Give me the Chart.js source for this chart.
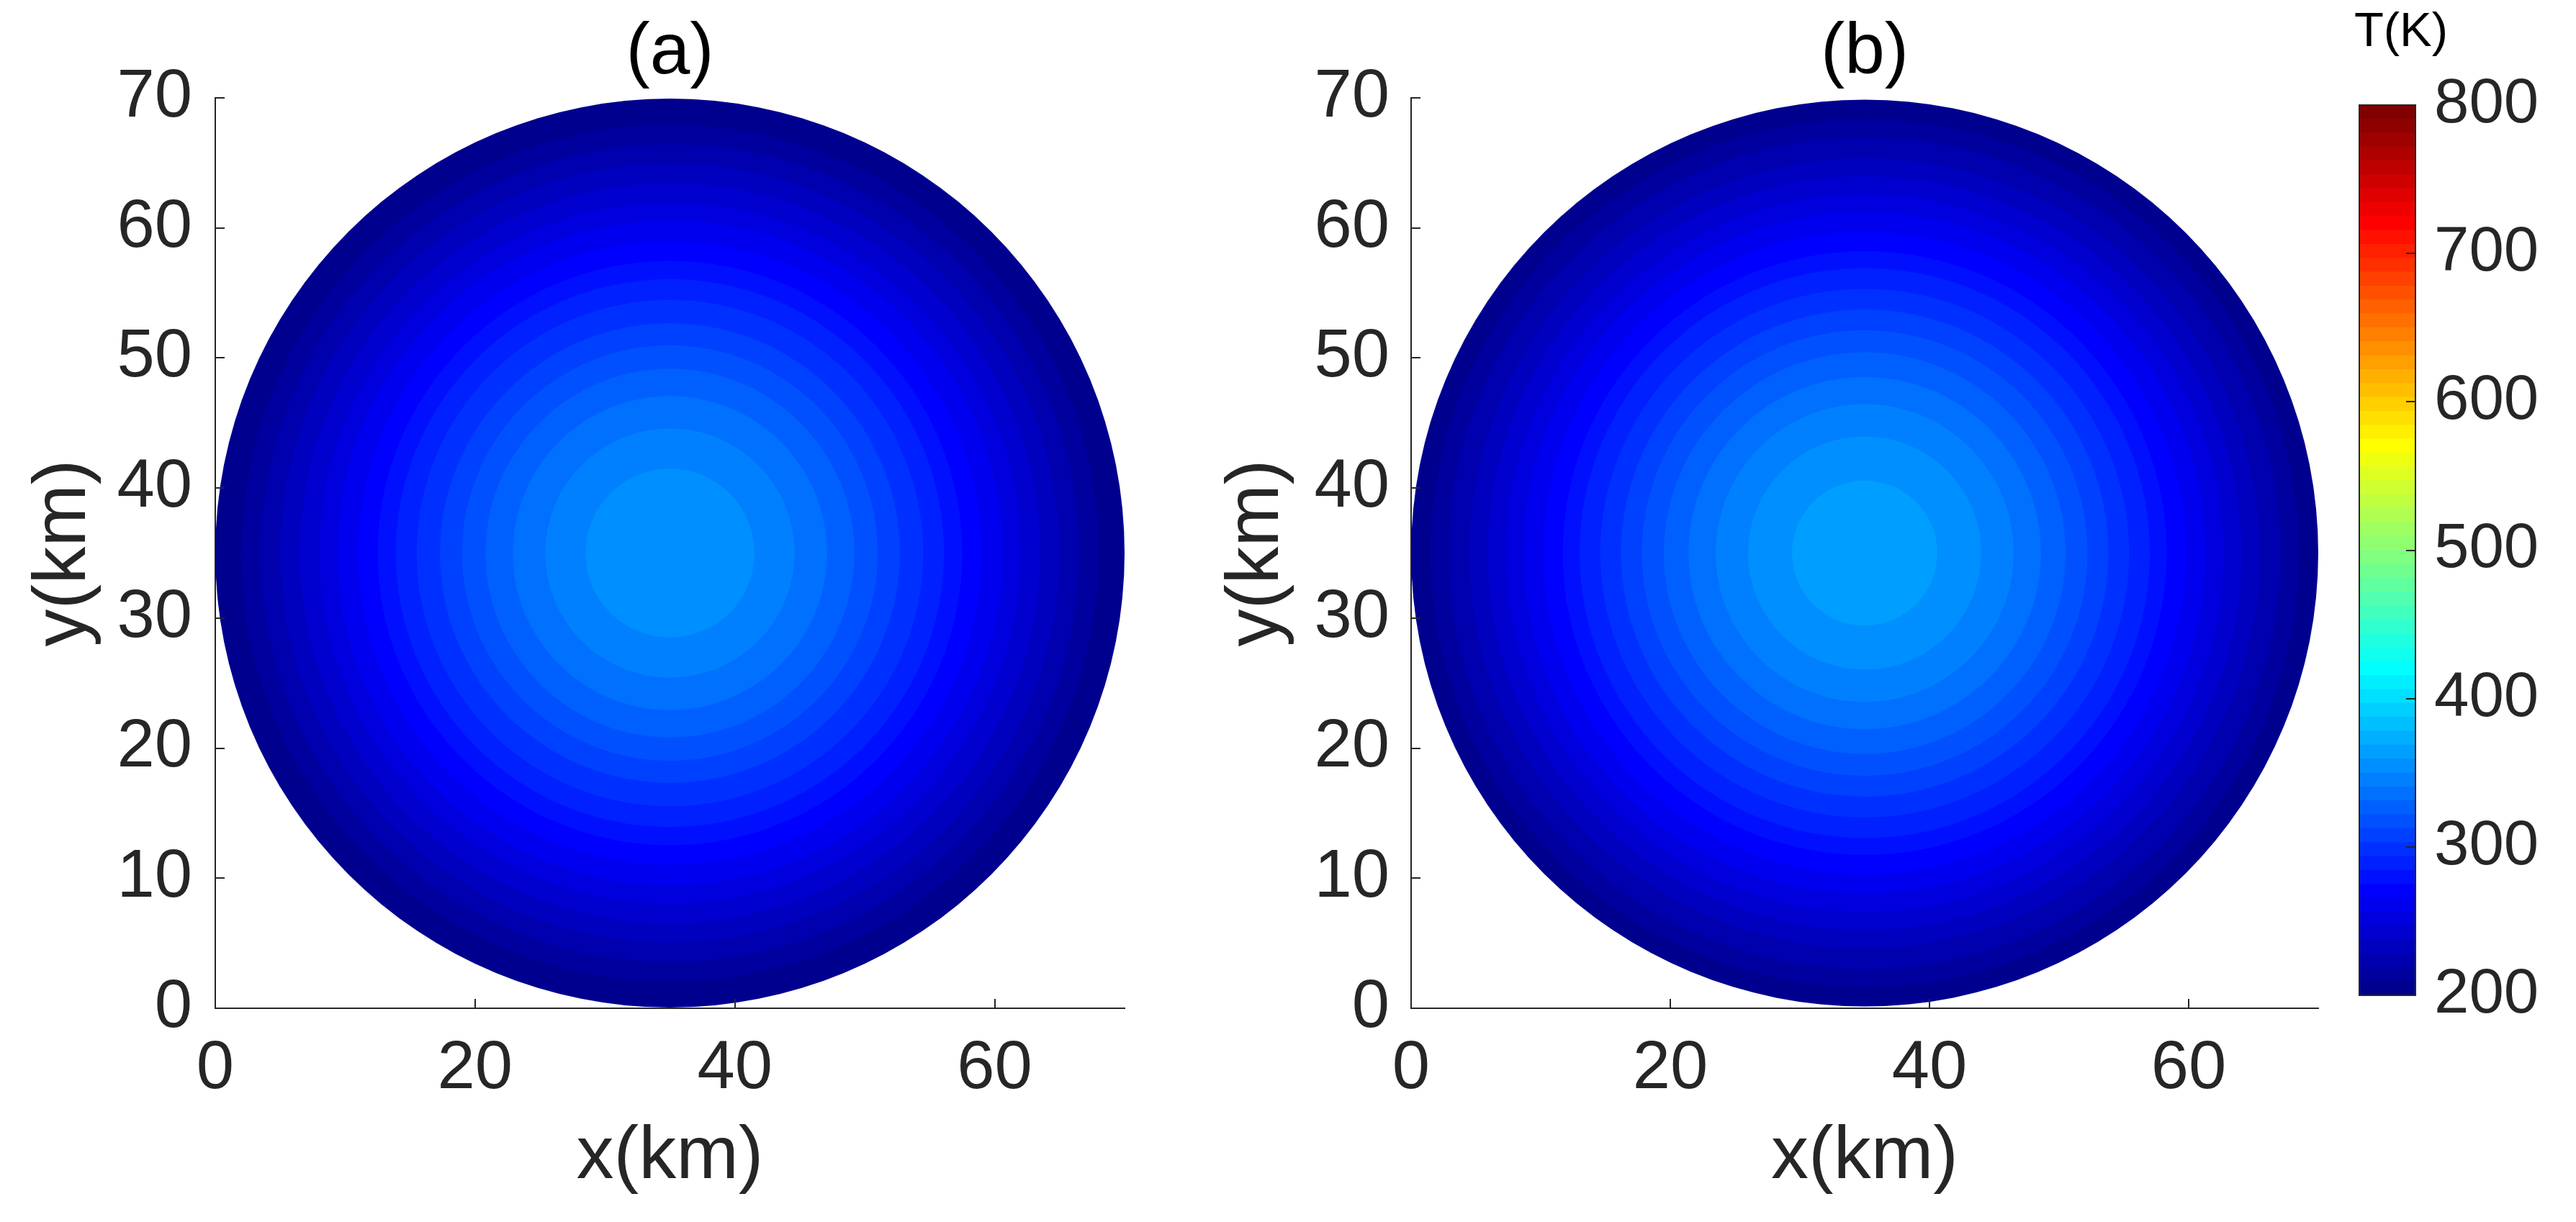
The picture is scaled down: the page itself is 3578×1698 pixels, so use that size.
<!DOCTYPE html>
<html>
<head>
<meta charset="utf-8">
<script src="https://cdn.jsdelivr.net/npm/chart.js@4.4.1/dist/chart.umd.min.js"></script>
<style>
  html, body { margin: 0; padding: 0; background: #ffffff; }
  body { width: 3578px; height: 1698px; position: relative; overflow: hidden; }
  canvas { position: absolute; top: 0; }
</style>
</head>
<body>
<canvas id="chartA" width="1660" height="1698" style="left:0px;width:1660px;height:1698px"></canvas>
<canvas id="chartB" width="1600" height="1698" style="left:1660px;width:1600px;height:1698px"></canvas>
<canvas id="chartC" width="440" height="1698" style="left:3100px;width:440px;height:1698px"></canvas>
<script>
// ---------------- data ----------------
const xTicks = [0, 20, 40, 60];
const yTicks = [0, 10, 20, 30, 40, 50, 60, 70];
const cbTicks = [200, 300, 400, 500, 600, 700, 800];
const axisMin = 0, axisMax = 70;
const cbMin = 200, cbMax = 800, cbLevels = 64;
const centre = [35, 35];                       // centre of the domain (km)

// panel (a): outer radius (km) of each temperature band, outermost first
const radiiA = [35.0, 33.0, 31.5, 30.0, 28.5, 27.0, 25.6, 24.0, 22.5, 21.1, 19.5, 17.7, 16.0, 14.2, 12.1, 9.6, 6.5];
const tempsA = [205, 214, 223, 233, 242, 252, 261, 270, 280, 289, 298, 308, 317, 327, 336, 345, 355];
// panel (b)
const radiiB = [35.0, 33.5, 32.1, 30.5, 29.1, 27.7, 26.3, 24.8, 23.3, 22.0, 20.4, 18.8, 17.2, 15.5, 13.6, 11.5, 9.0, 5.6];
const tempsB = [205, 214, 223, 233, 242, 252, 261, 270, 280, 289, 298, 308, 317, 327, 336, 345, 355, 364];

// ---------------- styling helpers ----------------
const FONT = "'Liberation Sans', Arial, Helvetica, sans-serif";
const AXC = '#262626';
Chart.defaults.font.family = FONT;

function jetRow(k) { // MATLAB jet(64), k = 1..64
  const f = v => Math.max(0, Math.min(1, v));
  const r = f(Math.min((k - 24) / 16, (72 - k) / 16));
  const g = f(Math.min((k - 8) / 16, (56 - k) / 16));
  const b = f(Math.min((k + 8) / 16, (40 - k) / 16));
  return `rgb(${Math.round(r * 255)},${Math.round(g * 255)},${Math.round(b * 255)})`;
}
function tempColor(t) {
  let k = Math.floor((t - cbMin) / (cbMax - cbMin) * cbLevels) + 1;
  k = Math.max(1, Math.min(cbLevels, k));
  return jetRow(k);
}

const inwardTicks = {
  id: 'inwardTicks',
  afterDraw(chart, args, opts) {
    const { ctx, chartArea: a, scales } = chart;
    ctx.save();
    ctx.strokeStyle = AXC;
    ctx.lineWidth = 2;
    const L = 13;
    if (opts.frame) {
      ctx.strokeRect(a.left, a.top, a.right - a.left, a.bottom - a.top);
    }
    if (opts.x) {
      for (const t of scales.x.ticks) {
        const p = Math.round(scales.x.getPixelForValue(t.value));
        ctx.beginPath(); ctx.moveTo(p, a.bottom); ctx.lineTo(p, a.bottom - L); ctx.stroke();
      }
    }
    if (opts.y) {
      for (const t of scales.y.ticks) {
        const p = Math.round(scales.y.getPixelForValue(t.value));
        ctx.beginPath(); ctx.moveTo(a.left, p); ctx.lineTo(a.left + L, p); ctx.stroke();
      }
    }
    if (opts.yRight) {
      for (const t of scales.y.ticks) {
        const p = Math.round(scales.y.getPixelForValue(t.value));
        ctx.beginPath(); ctx.moveTo(a.right, p); ctx.lineTo(a.right - L, p); ctx.stroke();
      }
    }
    ctx.restore();
  }
};

function makePanel(canvasId, title, radii, temps, cfg) {
  const radiusPx = ctx => {
    const s = ctx.chart.scales.x;
    return Math.abs(s.getPixelForValue(radii[ctx.dataIndex]) - s.getPixelForValue(0));
  };
  return new Chart(document.getElementById(canvasId), {
    type: 'scatter',
    data: {
      datasets: [{
        data: radii.map(() => ({ x: centre[0], y: centre[1] })),
        pointRadius: radiusPx,
        pointHoverRadius: radiusPx,
        pointBackgroundColor: ctx => tempColor(temps[ctx.dataIndex]),
        pointBorderWidth: 0,
        clip: false
      }]
    },
    options: {
      responsive: false,
      animation: false,
      devicePixelRatio: 1,
      events: [],
      layout: { padding: { left: 0, top: 0, right: cfg.padRight, bottom: 0 } },
      plugins: {
        legend: { display: false },
        tooltip: { enabled: false },
        title: {
          display: true, text: title, fullSize: false, color: '#000000',
          font: { size: 100, lineHeight: 1, weight: 'normal' },
          padding: { top: 24, bottom: 12 }
        },
        inwardTicks: { x: true, y: true }
      },
      scales: {
        x: {
          type: 'linear', min: axisMin, max: axisMax, z: 1,
          afterBuildTicks: s => { s.ticks = xTicks.map(v => ({ value: v })); },
          afterFit: s => { s.height = 297; },
          grid: { display: false, drawTicks: false },
          border: { display: true, color: AXC, width: 2 },
          ticks: { font: { size: 94 }, color: AXC, padding: 29, maxRotation: 0, autoSkip: false },
          title: { display: true, text: 'x(km)', color: AXC, font: { size: 104, lineHeight: 1 }, padding: { top: 0, bottom: 38 } }
        },
        y: {
          type: 'linear', min: axisMin, max: axisMax, z: 1,
          afterBuildTicks: s => { s.ticks = yTicks.map(v => ({ value: v })); },
          afterFit: s => { s.width = cfg.yWidth; },
          grid: { display: false, drawTicks: false },
          border: { display: true, color: AXC, width: 2 },
          ticks: { font: { size: 94 }, color: AXC, padding: cfg.tickPad, autoSkip: false },
          title: { display: true, text: 'y(km)', color: AXC, font: { size: 104, lineHeight: 1 }, padding: { top: cfg.yTitlePad, bottom: 0 } }
        }
      }
    },
    plugins: [inwardTicks]
  });
}

makePanel('chartA', '(a)', radiiA, tempsA, { padRight: 98, yWidth: 299, tickPad: 32, yTitlePad: 37 });
makePanel('chartB', '(b)', radiiB, tempsB, { padRight: 40, yWidth: 300, tickPad: 30, yTitlePad: 34 });

// ---------------- colour bar ----------------
const step = (cbMax - cbMin) / cbLevels;
const cbDatasets = [];
for (let k = 1; k <= cbLevels; k++) {
  cbDatasets.push({
    data: [[cbMin + (k - 1) * step, cbMin + k * step]],
    backgroundColor: jetRow(k),
    borderWidth: 0,
    barPercentage: 1,
    categoryPercentage: 1,
    grouped: false,
    yAxisID: 'y'
  });
}
new Chart(document.getElementById('chartC'), {
  type: 'bar',
  data: { labels: [''], datasets: cbDatasets },
  options: {
    responsive: false,
    animation: false,
    devicePixelRatio: 1,
    events: [],
    layout: { padding: { left: 35, right: 5, top: 0, bottom: 315 } },
    plugins: {
      legend: { display: false },
      tooltip: { enabled: false },
      title: {
        display: true, text: 'T(K)', color: '#000000',
        font: { size: 67, lineHeight: 1, weight: 'normal' },
        padding: { top: 12, bottom: 67 }
      },
      inwardTicks: { frame: true, yRight: true }
    },
    scales: {
      x: { display: false },
      yl: {
        type: 'linear', position: 'left', min: cbMin, max: cbMax,
        afterFit: s => { s.width = 142; },
        ticks: { display: false },
        grid: { display: false, drawTicks: false },
        border: { display: false }
      },
      y: {
        type: 'linear', position: 'right', min: cbMin, max: cbMax,
        afterBuildTicks: s => { s.ticks = cbTicks.map(v => ({ value: v })); },
        afterFit: s => { s.width = 180; },
        grid: { display: false, drawTicks: false },
        border: { display: false },
        ticks: { font: { size: 87 }, color: AXC, padding: 26, autoSkip: false }
      }
    }
  },
  plugins: [inwardTicks]
});
</script>
</body>
</html>
